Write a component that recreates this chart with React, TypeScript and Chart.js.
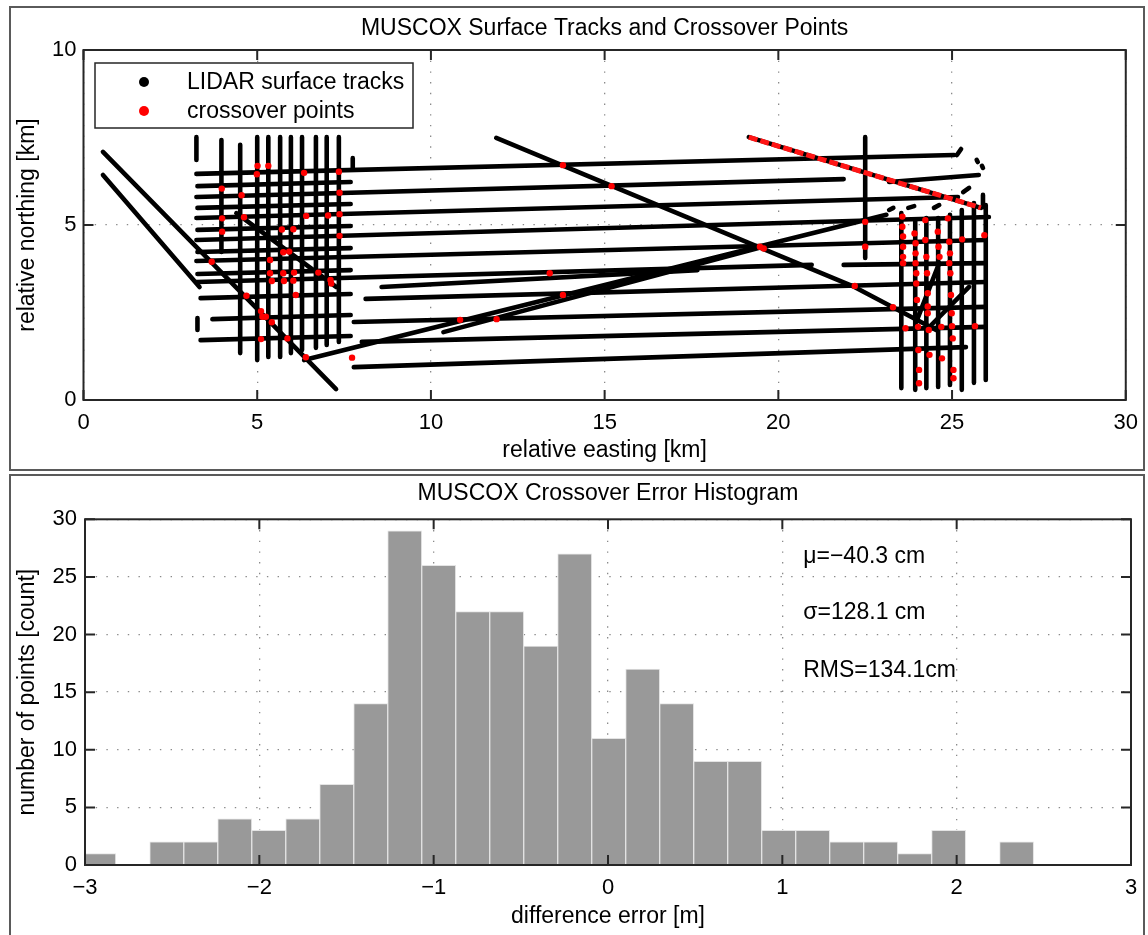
import React, { useEffect, useRef } from "react";
import { Chart, registerables } from "chart.js";

Chart.register(...registerables);

type Pt = [number, number];

const FONT = '"Liberation Sans", Arial, Helvetica, sans-serif';
Chart.defaults.font.family = FONT;
Chart.defaults.color = "#000";

// ---------- Surface tracks (relative easting, northing in km) ----------
const TRACK_LABEL = "LIDAR surface tracks";
const CROSSOVER_LABEL = "crossover points";

const westDiagonalTracks: Pt[][] = [
  [[0.56, 7.09], [7.27, 0.31]],
  [[0.56, 6.43], [3.34, 3.23]],
  [[4.4, 5.34], [7.27, 3.23]],
];

const westGridColumns: Pt[][] = [
  [[3.97, 7.43], [3.97, 4.23]],
  [[4.51, 7.29], [4.51, 1.34]],
  [[5.0, 7.51], [5.0, 1.14]],
  [[5.32, 7.51], [5.32, 1.23]],
  [[5.66, 7.51], [5.66, 1.23]],
  [[5.97, 7.51], [5.97, 1.34]],
  [[6.29, 7.51], [6.29, 1.43]],
  [[6.69, 7.51], [6.69, 1.49]],
  [[7.0, 7.51], [7.0, 1.57]],
  [[7.35, 7.51], [7.35, 1.66]],
];

const westGridRows: Pt[][] = [
  [[3.28, 6.11], [7.69, 6.23]],
  [[3.28, 5.49], [7.69, 5.6]],
  [[3.28, 4.86], [7.69, 4.97]],
  [[3.28, 4.23], [7.69, 4.34]],
  [[3.28, 3.6], [7.69, 3.71]],
  [[3.37, 2.91], [7.69, 3.03]],
  [[3.71, 2.31], [7.69, 2.43]],
  [[3.37, 1.71], [7.69, 1.83]],
];

const eastWestTracks: Pt[][] = [
  [[3.25, 6.46], [25.06, 7.0]],
  [[3.25, 5.8], [21.88, 6.31]],
  [[23.19, 6.23], [25.77, 6.43]],
  [[3.25, 5.2], [25.17, 5.8]],
  [[3.25, 4.57], [26.06, 5.23]],
  [[3.25, 3.97], [25.97, 4.57]],
  [[3.25, 3.37], [20.96, 3.86]],
  [[21.88, 3.86], [25.97, 3.91]],
  [[8.12, 2.89], [25.97, 3.37]],
  [[7.78, 2.23], [25.97, 2.66]],
  [[8.01, 1.66], [25.97, 2.09]],
  [[7.78, 0.94], [25.4, 1.51]],
  [[8.58, 3.23], [17.67, 3.71]],
];

const obliqueTracks: Pt[][] = [
  [[11.88, 7.49], [22.19, 3.23], [24.54, 2.0]],
  [[6.35, 1.14], [23.11, 5.29]],
  [[10.36, 1.94], [19.53, 4.37]],
  [[22.5, 7.51], [22.5, 4.06]],
  [[23.97, 2.23], [24.63, 3.91]],
  [[24.26, 2.0], [25.49, 3.23]],
];

const eastGridColumns: Pt[][] = [
  [[23.54, 5.34], [23.54, 0.34]],
  [[23.94, 5.14], [23.94, 0.29]],
  [[24.26, 5.2], [24.26, 0.34]],
  [[24.6, 5.2], [24.6, 0.37]],
  [[24.94, 5.29], [24.94, 0.43]],
  [[25.28, 5.43], [25.28, 0.29]],
  [[25.63, 5.63], [25.63, 0.49]],
  [[25.97, 5.57], [25.97, 0.57]],
];

const fragmentTracks: Pt[][] = [
  [[3.25, 7.51], [3.25, 6.86]],
  [[3.28, 2.34], [3.28, 2.0]],
  [[25.14, 7.0], [25.26, 7.17]],
  [[25.71, 6.86], [25.74, 6.8]],
  [[25.86, 6.69], [25.89, 6.63]],
  [[23.19, 5.43], [23.31, 5.49]],
  [[23.74, 5.49], [23.91, 5.54]],
  [[24.48, 5.49], [24.63, 5.57]],
  [[25.32, 5.94], [25.49, 6.06]],
  [[25.89, 5.86], [25.89, 5.51]],
  [[7.75, 6.91], [7.75, 6.63]],
];

// track that is crossed along nearly its whole length
const crossoverTrack: Pt[] = [[19.15, 7.51], [25.83, 5.49]];

const crossoverPoints: Pt[] = [
  [5.01, 6.69], [5.32, 6.69], [4.99, 6.45], [6.35, 6.49], [7.35, 6.52],
  [3.98, 6.04], [4.55, 5.85], [7.37, 5.92], [3.99, 5.19], [4.62, 5.22],
  [6.41, 5.26], [7.04, 5.27], [7.37, 5.31], [3.99, 4.81], [5.71, 4.87],
  [6.04, 4.88], [7.37, 4.69], [5.75, 4.22], [5.92, 4.24], [5.37, 4.0],
  [3.69, 3.95], [5.37, 3.62], [5.75, 3.62], [6.06, 3.64], [6.76, 3.64],
  [5.42, 3.4], [5.77, 3.4], [6.04, 3.41], [7.11, 3.43], [7.13, 3.33],
  [6.11, 3.0], [4.69, 2.98], [5.11, 2.54], [5.15, 2.38], [5.25, 2.38],
  [5.42, 2.22], [5.11, 1.74], [5.87, 1.76], [6.4, 1.22], [7.73, 1.21],
  [13.8, 6.71], [15.2, 6.11], [13.42, 3.62], [13.8, 3.0], [10.84, 2.29],
  [11.89, 2.31], [19.47, 4.38], [19.58, 4.33], [22.5, 5.09], [22.5, 4.38],
  [22.2, 3.26], [23.3, 2.65],
  [23.57, 5.24], [23.57, 4.95], [23.59, 4.67], [23.59, 4.38], [23.59, 4.09],
  [23.59, 3.91], [23.92, 4.76], [23.95, 4.48], [23.95, 4.19], [23.95, 3.91],
  [23.97, 3.62], [23.97, 3.33], [23.99, 2.86], [24.02, 2.09], [24.03, 1.43],
  [24.05, 0.86], [24.05, 0.48], [24.23, 5.14], [24.23, 4.57], [24.26, 4.09],
  [24.28, 3.62], [24.3, 3.05], [24.3, 2.67], [24.3, 2.48], [24.33, 2.0],
  [24.35, 1.29], [24.59, 4.81], [24.61, 4.38], [24.64, 4.09], [24.69, 2.09],
  [24.71, 1.19], [24.88, 5.19], [24.92, 4.52], [24.94, 4.19], [24.92, 3.91],
  [24.95, 3.62], [24.97, 3.0], [24.99, 2.48], [25.0, 2.11], [25.02, 1.76],
  [25.04, 0.86], [25.04, 0.62], [25.29, 4.59], [25.66, 2.11], [25.93, 4.71],
  [23.66, 2.05],
];

// ---------- Crossover error histogram ----------
const binCenters = [
  -2.921, -2.726, -2.531, -2.336, -2.141, -1.946, -1.751, -1.556, -1.361, -1.166,
  -0.971, -0.776, -0.581, -0.386, -0.191, 0.004, 0.199, 0.394, 0.589, 0.784,
  0.979, 1.174, 1.369, 1.564, 1.759, 1.954, 2.149, 2.344,
];
const binCounts = [
  1, 0, 2, 2, 4, 3, 4, 7, 14, 29,
  26, 22, 22, 19, 27, 11, 17, 14, 9, 9,
  3, 3, 2, 2, 1, 3, 0, 2,
];
const statLabels = ["\u03bc=\u221240.3 cm", "\u03c3=128.1 cm", "RMS=134.1cm"];
const statX = 1.12;
const statY = [26.8, 21.9, 16.9];

const toXY = (pts: Pt[]) => pts.map(([x, y]) => ({ x, y }));
const minusTick = (v: number | string) => String(v).replace("-", "\u2212");

const TEXT_SIZE = 23;

// MATLAB-style box with inward tick marks on all four sides
const axesFrame = {
  id: "axesFrame",
  afterDatasetsDraw(chart: any) {
    const { ctx, chartArea: a, scales } = chart;
    const len = 10;
    ctx.save();
    ctx.strokeStyle = "#262626";
    ctx.lineWidth = 2;
    ctx.strokeRect(a.left, a.top, a.right - a.left, a.bottom - a.top);
    ctx.beginPath();
    for (const t of scales.x.ticks) {
      const px = scales.x.getPixelForValue(t.value);
      ctx.moveTo(px, a.bottom);
      ctx.lineTo(px, a.bottom - len);
      ctx.moveTo(px, a.top);
      ctx.lineTo(px, a.top + len);
    }
    for (const t of scales.y.ticks) {
      const py = scales.y.getPixelForValue(t.value);
      ctx.moveTo(a.left, py);
      ctx.lineTo(a.left + len, py);
      ctx.moveTo(a.right, py);
      ctx.lineTo(a.right - len, py);
    }
    ctx.stroke();
    ctx.restore();
  },
};

// Boxed legend in the upper-left corner of the track map
const trackLegend = {
  id: "trackLegend",
  afterDraw(chart: any) {
    const { ctx, chartArea: a } = chart;
    const entries: { label: string; color: string }[] = [];
    for (const ds of chart.data.datasets) {
      if (!entries.find((e) => e.label === ds.label)) {
        entries.push({ label: ds.label, color: ds.legendColor });
      }
    }
    entries.sort((p, q) => (p.label === TRACK_LABEL ? -1 : q.label === TRACK_LABEL ? 1 : 0));
    const bx = a.left + 11.5;
    const by = a.top + 13;
    ctx.save();
    ctx.fillStyle = "#fff";
    ctx.fillRect(bx, by, 318, 65);
    ctx.strokeStyle = "#262626";
    ctx.lineWidth = 1.5;
    ctx.strokeRect(bx, by, 318, 65);
    ctx.font = `${TEXT_SIZE}px ${FONT}`;
    ctx.textBaseline = "middle";
    ctx.textAlign = "left";
    entries.forEach((e, i) => {
      const cy = by + 19 + i * 29;
      ctx.beginPath();
      ctx.fillStyle = e.color;
      ctx.arc(bx + 49, cy, 5, 0, Math.PI * 2);
      ctx.fill();
      ctx.fillStyle = "#000";
      ctx.fillText(e.label, bx + 92, cy + 1);
    });
    ctx.restore();
  },
};

// Summary statistics written inside the histogram axes
const statsText = {
  id: "statsText",
  afterDatasetsDraw(chart: any) {
    const { ctx, scales } = chart;
    ctx.save();
    ctx.font = `${TEXT_SIZE}px ${FONT}`;
    ctx.fillStyle = "#000";
    ctx.textAlign = "left";
    ctx.textBaseline = "middle";
    statLabels.forEach((s, i) => {
      ctx.fillText(s, scales.x.getPixelForValue(statX), scales.y.getPixelForValue(statY[i]));
    });
    ctx.restore();
  },
};

const gridStyle = { color: "#8a8a8a", lineWidth: 1.3, drawTicks: false };
const borderStyle = { display: false, dash: [1.4, 9.3] };
const tickFont = { family: FONT, size: 22 };
const labelFont = { family: FONT, size: TEXT_SIZE, weight: "normal" as const, lineHeight: 1.2 };

function trackConfig(): any {
  const blackTracks = [
    ...westDiagonalTracks,
    ...westGridColumns,
    ...westGridRows,
    ...eastWestTracks,
    ...obliqueTracks,
    ...eastGridColumns,
    ...fragmentTracks,
    crossoverTrack,
  ];
  const datasets: any[] = [
    {
      label: CROSSOVER_LABEL,
      legendColor: "#ff0000",
      data: toXY(crossoverPoints),
      showLine: false,
      pointRadius: 3.2,
      pointBackgroundColor: "#ff0000",
      pointBorderWidth: 0,
      order: 0,
    },
    {
      label: CROSSOVER_LABEL,
      legendColor: "#ff0000",
      data: toXY(crossoverTrack),
      showLine: true,
      borderColor: "#ff1414",
      borderWidth: 5,
      borderDash: [9, 3],
      pointRadius: 0,
      order: 1,
    },
    ...blackTracks.map((t) => ({
      label: TRACK_LABEL,
      legendColor: "#000000",
      data: toXY(t),
      showLine: true,
      borderColor: "#000",
      borderWidth: 4.6,
      borderCapStyle: "round",
      borderJoinStyle: "round",
      pointRadius: 0,
      order: 2,
    })),
  ];
  return {
    type: "scatter",
    data: { datasets },
    plugins: [axesFrame, trackLegend],
    options: {
      responsive: false,
      animation: false,
      devicePixelRatio: 1,
      events: [],
      layout: { padding: { left: 0, right: 17, top: 0, bottom: 0 } },
      plugins: {
        legend: { display: false },
        tooltip: { enabled: false },
        title: {
          display: true,
          fullSize: false,
          text: "MUSCOX Surface Tracks and Crossover Points",
          color: "#000",
          font: labelFont,
          padding: { top: 15, bottom: 7.4 },
        },
      },
      scales: {
        x: {
          type: "linear",
          min: 0,
          max: 30,
          ticks: { stepSize: 5, font: tickFont, color: "#000", padding: 10, maxRotation: 0 },
          grid: gridStyle,
          border: borderStyle,
          title: {
            display: true,
            text: "relative easting [km]",
            color: "#000",
            font: labelFont,
            padding: { top: 0, bottom: 5.4 },
          },
          afterFit: (s: any) => {
            s.height = 70;
          },
        },
        y: {
          type: "linear",
          min: 0,
          max: 10,
          ticks: { stepSize: 5, font: tickFont, color: "#000", padding: 7 },
          grid: gridStyle,
          border: borderStyle,
          title: {
            display: true,
            text: "relative northing [km]",
            color: "#000",
            font: labelFont,
            padding: { top: 13.6, bottom: 0 },
          },
          afterFit: (s: any) => {
            s.width = 83.5;
          },
        },
      },
    },
  };
}

function histConfig(): any {
  return {
    type: "bar",
    data: {
      datasets: [
        {
          label: "crossover error",
          data: binCenters.map((x, i) => ({ x, y: binCounts[i] })),
          backgroundColor: "#999999",
          borderColor: "#e4e4e4",
          borderWidth: 1,
          borderSkipped: "bottom",
          barPercentage: 1,
          categoryPercentage: 1,
          clip: 0,
        },
      ],
    },
    plugins: [axesFrame, statsText],
    options: {
      responsive: false,
      animation: false,
      devicePixelRatio: 1,
      events: [],
      layout: { padding: { left: 0, right: 17, top: 0, bottom: 0 } },
      plugins: {
        legend: { display: false },
        tooltip: { enabled: false },
        title: {
          display: true,
          fullSize: false,
          text: "MUSCOX Crossover Error Histogram",
          color: "#000",
          font: labelFont,
          padding: { top: 8.2, bottom: 11.5 },
        },
      },
      scales: {
        x: {
          type: "linear",
          min: -3,
          max: 3,
          offset: false,
          ticks: {
            stepSize: 1,
            font: tickFont,
            color: "#000",
            padding: 10,
            maxRotation: 0,
            callback: (v: number) => minusTick(v),
          },
          grid: { ...gridStyle, offset: false },
          border: borderStyle,
          title: {
            display: true,
            text: "difference error [m]",
            color: "#000",
            font: labelFont,
            padding: { top: 0, bottom: 4.4 },
          },
          afterFit: (s: any) => {
            s.height = 70;
          },
        },
        y: {
          type: "linear",
          min: 0,
          max: 30,
          beginAtZero: true,
          ticks: { stepSize: 5, font: tickFont, color: "#000", padding: 8 },
          grid: gridStyle,
          border: borderStyle,
          title: {
            display: true,
            text: "number of points [count]",
            color: "#000",
            font: labelFont,
            padding: { top: 13.6, bottom: 0 },
          },
          afterFit: (s: any) => {
            s.width = 85;
          },
        },
      },
    },
  };
}

export default function App() {
  const topRef = useRef<HTMLCanvasElement>(null);
  const bottomRef = useRef<HTMLCanvasElement>(null);

  useEffect(() => {
    const tracks = new Chart(topRef.current as HTMLCanvasElement, trackConfig());
    const hist = new Chart(bottomRef.current as HTMLCanvasElement, histConfig());
    return () => {
      tracks.destroy();
      hist.destroy();
    };
  }, []);

  const panel = (top: number, height: number): React.CSSProperties => ({
    position: "absolute",
    left: 9,
    top,
    width: 1136,
    height,
    border: "2px solid #5a5a5a",
    boxSizing: "border-box",
  });

  return (
    <div
      style={{
        position: "absolute",
        left: 0,
        top: 0,
        width: 1148,
        height: 935,
        background: "#fff",
        overflow: "hidden",
      }}
    >
      <div style={panel(6, 465)} />
      <div style={panel(474, 470)} />
      <canvas
        ref={topRef}
        width={1148}
        height={470}
        style={{ position: "absolute", left: 0, top: 0 }}
      />
      <canvas
        ref={bottomRef}
        width={1148}
        height={463}
        style={{ position: "absolute", left: 0, top: 472 }}
      />
    </div>
  );
}
